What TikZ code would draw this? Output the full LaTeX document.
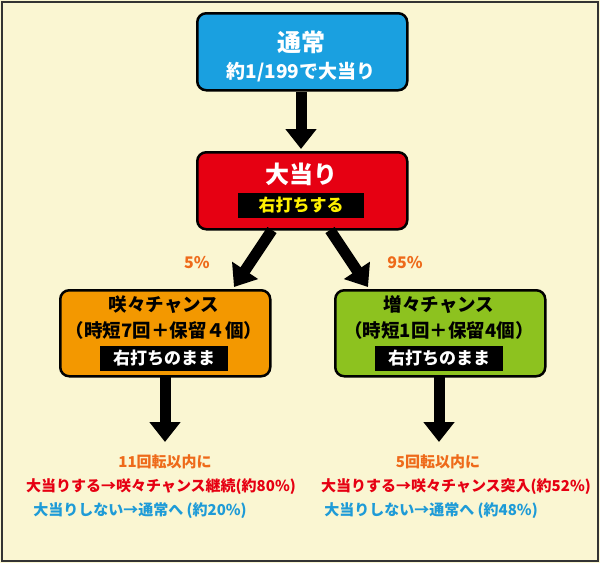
\documentclass[tikz,border=0pt]{standalone}
\usepackage{fontspec}
\setmainfont{Noto Sans CJK JP}
\usetikzlibrary{arrows.meta}
\definecolor{bg}{HTML}{FAF6D2}
\definecolor{cblue}{HTML}{1AA0E0}
\definecolor{cred}{HTML}{E60012}
\definecolor{corange}{HTML}{F39800}
\definecolor{cgreen}{HTML}{8DC21F}
\definecolor{tor}{HTML}{EE6A1A}
\definecolor{tred}{HTML}{E60012}
\definecolor{tblue}{HTML}{1E9BD7}
\definecolor{cyel}{HTML}{FFF100}
\begin{document}
\begin{tikzpicture}[x=1pt,y=-1pt,
 box/.style={draw=black,line width=2.5pt,rounded corners=9pt,minimum width=210pt,anchor=north west},
 lab/.style={fill=black,inner sep=2pt,minimum height=25pt,font=\bfseries\fontsize{17}{17}\selectfont},
 big/.style={line width=11pt,-{Triangle[length=20pt,width=30pt]}},
 note/.style={font=\bfseries\fontsize{15}{15}\selectfont}]
\fill[bg] (0,0) rectangle (600,563);
\draw[line width=1.5pt,black!80] (2,2) rectangle (598,561);
% boxes
\node[box,fill=cblue,minimum height=77pt] (n1) at (196,12) {};
\node[white,font=\bfseries\fontsize{24}{24}\selectfont] (t1) at (301,42) {通常};
\node[white,font=\bfseries\fontsize{19}{19}\selectfont] (t1b) at (301,72) {約1/199で大当り};
\node[box,fill=cred,minimum height=77pt] (n2) at (196,151) {};
\node[white,font=\bfseries\fontsize{24}{24}\selectfont] (t2) at (301,174) {大当り};
\node[lab,text=cyel,minimum width=126pt] (l2) at (301,205) {右打ちする};
\node[box,fill=corange,minimum height=86pt] (n3) at (59,289) {};
\node[font=\bfseries\fontsize{18.5}{18.5}\selectfont] (t3) at (164,305) {咲々チャンス};
\node[font=\bfseries\fontsize{18.5}{18.5}\selectfont] (t3b) at (164,330) {（時短7回＋保留４個）};
\node[lab,text=white,minimum width=128pt] (l3) at (164,358) {右打ちのまま};
\node[box,fill=cgreen,minimum height=86pt] (n4) at (334,289) {};
\node[font=\bfseries\fontsize{18.5}{18.5}\selectfont] (t4) at (439,305) {増々チャンス};
\node[font=\bfseries\fontsize{18.5}{18.5}\selectfont] (t4b) at (439,330) {（時短1回＋保留4個）};
\node[lab,text=white,minimum width=128pt] (l4) at (439,358) {右打ちのまま};
% arrows
\coordinate (a1s) at (301,92); \coordinate (a1e) at (301,149);
\draw[big] (a1s) -- (a1e);
\coordinate (a2s) at (272,230); \coordinate (a2e) at (234,287);
\coordinate (a3s) at (330,230); \coordinate (a3e) at (368,287);
\draw[big] (a2s) -- (a2e);
\draw[big] (a3s) -- (a3e);
\coordinate (a4s) at (165,377); \coordinate (a4e) at (165,442);
\coordinate (a5s) at (439,377); \coordinate (a5e) at (439,442);
\draw[big] (a4s) -- (a4e);
\draw[big] (a5s) -- (a5e);
\node[text=tor,font=\bfseries\fontsize{16}{16}\selectfont] (p5) at (197,263) {5\%};
\node[text=tor,font=\bfseries\fontsize{16}{16}\selectfont] (p95) at (405,263) {95\%};
% notes
\node[note,text=tor] (r1) at (165,462) {11回転以内に};
\node[note,text=tred] (r2) at (161,487) {大当りする→咲々チャンス継続(約80\%)};
\node[note,text=tblue] (r3) at (140,511) {大当りしない→通常へ (約20\%)};
\node[note,text=tor] (s1) at (438,462) {5回転以内に};
\node[note,text=tred] (s2) at (456,487) {大当りする→咲々チャンス突入(約52\%)};
\node[note,text=tblue] (s3) at (431,511) {大当りしない→通常へ (約48\%)};
\end{tikzpicture}
\end{document}
